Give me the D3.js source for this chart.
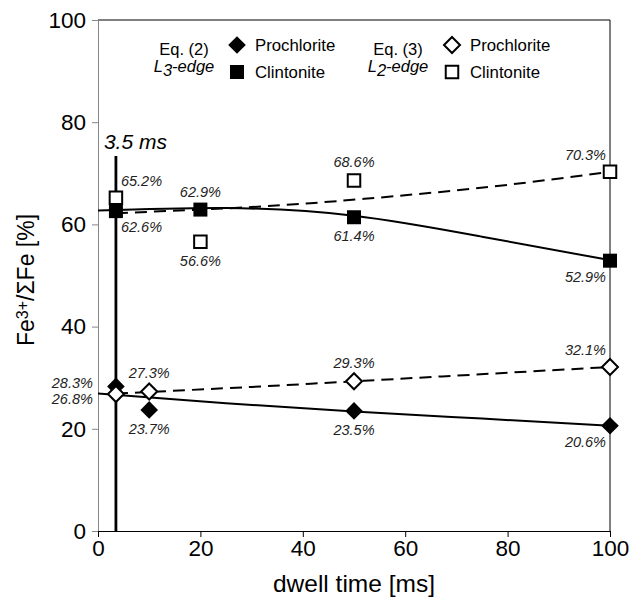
<!DOCTYPE html>
<html>
<head>
<meta charset="utf-8">
<script src="https://cdn.jsdelivr.net/npm/d3@7"></script>
<style>
  body { margin: 0; background: #fff; }
  svg text { font-family: "Liberation Sans", Arial, sans-serif; }
</style>
</head>
<body>
<svg class="chart" width="630" height="600"></svg>
<script>
"use strict";

// measured points
let dwellPro = [3.5, 10, 50, 100];
let dwellClin = [3.5, 20, 50, 100];
let l3Pro = [28.3, 23.7, 23.5, 20.6];   // Eq. (2) Prochlorite
let l3Clin = [62.6, 62.9, 61.4, 52.9];  // Eq. (2) Clintonite
let l2Pro = [26.8, 27.3, 29.3, 32.1];   // Eq. (3) Prochlorite
let l2Clin = [65.2, 56.6, 68.6, 70.3];  // Eq. (3) Clintonite

// trend curves
let trendSolidX = [0, 25, 50, 75, 100];
let trendL3Pro = [26.9, 25.0, 23.4, 22.0, 20.6];
let trendL3Clin = [62.7, 63.2, 61.7, 57.6, 53.0];
let trendDashX = [3.5, 30, 52, 77, 100];
let trendL2Pro = [26.9, 28.2, 29.4, 30.8, 32.1];
let trendL2Clin = [62.2, 63.4, 65.0, 67.4, 70.3];

let xTicks = [0, 20, 40, 60, 80, 100];
let yTicks = [0, 20, 40, 60, 80, 100];
let markerTime = 3.5;
let markerTop = 73.4;

// where each value label sits relative to its marker
let placeL3Pro = ['L-', 'B', 'B', 'BL'];
let placeL2Pro = ['L+', 'A', 'A', 'AL'];
let placeL3Clin = ['BR', 'A', 'B', 'BL'];
let placeL2Clin = ['AR', 'B', 'A', 'AL'];

let svg = d3.select('.chart');

let x = d3.scaleLinear().domain([0, 100]).range([98, 610]);
let y = d3.scaleLinear().domain([0, 100]).range([531, 20]);

// frame: black top / right / bottom, grey value axis
svg.append('line')
  .attr('x1', x(0)).attr('x2', x(100)).attr('y1', y(100)).attr('y2', y(100))
  .attr('stroke', '#000').attr('stroke-width', 1);
svg.append('line')
  .attr('x1', x(100)).attr('x2', x(100)).attr('y1', y(100)).attr('y2', y(0))
  .attr('stroke', '#000').attr('stroke-width', 1);

let yAxis = svg.append('g')
  .attr('transform', 'translate(' + x(0) + ',0)')
  .call(d3.axisLeft(y).tickValues(yTicks).tickSize(6).tickPadding(6));
yAxis.select('.domain').attr('stroke', '#868686');
yAxis.selectAll('.tick line').attr('stroke', '#868686');
yAxis.selectAll('.tick text')
  .attr('font-size', 22.5).attr('fill', '#000')
  .attr('font-family', '"Liberation Sans", Arial, sans-serif');

let xAxis = svg.append('g')
  .attr('transform', 'translate(0,' + y(0) + ')')
  .call(d3.axisBottom(x).tickValues(xTicks).tickSize(6).tickPadding(3));
xAxis.select('.domain').attr('stroke', '#000');
xAxis.selectAll('.tick line').attr('stroke', '#000');
xAxis.selectAll('.tick text')
  .attr('font-size', 22.5).attr('fill', '#000')
  .attr('font-family', '"Liberation Sans", Arial, sans-serif');

// axis titles
svg.append('text')
  .attr('x', 354).attr('y', 592)
  .attr('text-anchor', 'middle')
  .attr('font-size', 24.5)
  .text('dwell time [ms]');

let yTitle = svg.append('text')
  .attr('transform', 'translate(34,280) rotate(-90)')
  .attr('text-anchor', 'middle')
  .attr('font-size', 23);
yTitle.append('tspan').text('Fe');
yTitle.append('tspan').attr('baseline-shift', '40%').attr('font-size', 16).text('3+');
yTitle.append('tspan').text('/ΣFe [%]');

// trend lines
let trendLine = d3.line()
  .x(d => x(d[0]))
  .y(d => y(d[1]))
  .curve(d3.curveNatural);

let trends = [
  { xs: trendSolidX, ys: trendL3Clin, dash: null },
  { xs: trendSolidX, ys: trendL3Pro, dash: null },
  { xs: trendDashX, ys: trendL2Clin, dash: '12,7' },
  { xs: trendDashX, ys: trendL2Pro, dash: '12,7' }
];

svg.selectAll('.trend')
  .data(trends)
  .enter()
  .append('path')
  .attr('class', 'trend')
  .attr('d', d => trendLine(d.xs.map((v, i) => [v, d.ys[i]])))
  .attr('fill', 'none')
  .attr('stroke', '#000')
  .attr('stroke-width', 2)
  .attr('stroke-dasharray', d => d.dash);

// 3.5 ms marker line
svg.append('line')
  .attr('x1', x(markerTime)).attr('x2', x(markerTime))
  .attr('y1', y(markerTop)).attr('y2', y(0))
  .attr('stroke', '#000').attr('stroke-width', 2.8);
svg.append('text')
  .attr('x', x(markerTime) - 12).attr('y', y(markerTop) - 7)
  .attr('font-size', 21).attr('font-style', 'italic')
  .text(markerTime + ' ms');

// marker shapes
let diamond = r => 'M0,' + (-r) + 'L' + r + ',0L0,' + r + 'L' + (-r) + ',0Z';
let square = s => 'M' + (-s / 2) + ',' + (-s / 2) + 'h' + s + 'v' + s + 'h' + (-s) + 'Z';

let shapes = {
  fillDiamond: { d: diamond(8.8), fill: '#000', sw: 0 },
  openDiamond: { d: diamond(8), fill: '#fff', sw: 2 },
  fillSquare: { d: square(14), fill: '#000', sw: 0 },
  openSquare: { d: square(12.5), fill: '#fff', sw: 2 }
};

let series = [
  { xs: dwellClin, ys: l2Clin, shape: 'openSquare', place: placeL2Clin },
  { xs: dwellClin, ys: l3Clin, shape: 'fillSquare', place: placeL3Clin },
  { xs: dwellPro, ys: l3Pro, shape: 'fillDiamond', place: placeL3Pro },
  { xs: dwellPro, ys: l2Pro, shape: 'openDiamond', place: placeL2Pro }
];

let offsets = {
  'A': [0, -18, 'middle'],
  'B': [0, 19, 'middle'],
  'L-': [-23, -3, 'end'],
  'L+': [-23, 5, 'end'],
  'AR': [5, -17, 'start'],
  'BR': [5, 16, 'start'],
  'AL': [-4, -17, 'end'],
  'BL': [-4, 16, 'end']
};

series.forEach(s => {
  let pts = s.xs.map((v, i) => ({ t: v, v: s.ys[i], p: s.place[i] }));
  let sh = shapes[s.shape];

  svg.selectAll(null)
    .data(pts)
    .enter()
    .append('path')
    .attr('transform', d => 'translate(' + x(d.t) + ',' + y(d.v) + ')')
    .attr('d', sh.d)
    .attr('fill', sh.fill)
    .attr('stroke', sh.sw ? '#000' : 'none')
    .attr('stroke-width', sh.sw);

  svg.selectAll(null)
    .data(pts)
    .enter()
    .append('text')
    .attr('x', d => x(d.t) + offsets[d.p][0])
    .attr('y', d => y(d.v) + offsets[d.p][1])
    .attr('text-anchor', d => offsets[d.p][2])
    .attr('dominant-baseline', 'central')
    .attr('font-size', 14.5)
    .attr('font-style', 'italic')
    .attr('fill', '#222')
    .text(d => d.v.toFixed(1) + '%');
});

// legend
let legendGroups = [
  { eq: 'Eq. (2)', edge: '3', cx: 184, mx: 237, pro: 'fillDiamond', clin: 'fillSquare' },
  { eq: 'Eq. (3)', edge: '2', cx: 398, mx: 452, pro: 'openDiamond', clin: 'openSquare' }
];

legendGroups.forEach(g => {
  svg.append('text')
    .attr('x', g.cx).attr('y', 49)
    .attr('text-anchor', 'middle').attr('dominant-baseline', 'central')
    .attr('font-size', 16.5)
    .text(g.eq);
  let edge = svg.append('text')
    .attr('x', g.cx).attr('y', 66)
    .attr('text-anchor', 'middle').attr('dominant-baseline', 'central')
    .attr('font-size', 16.5).attr('font-style', 'italic');
  edge.append('tspan').text('L');
  edge.append('tspan').attr('baseline-shift', '-25%').text(g.edge);
  edge.append('tspan').text('-edge');

  [[g.pro, 45, 'Prochlorite'], [g.clin, 72, 'Clintonite']].forEach(row => {
    let sh = shapes[row[0]];
    svg.append('path')
      .attr('transform', 'translate(' + g.mx + ',' + row[1] + ')')
      .attr('d', sh.d)
      .attr('fill', sh.fill)
      .attr('stroke', sh.sw ? '#000' : 'none')
      .attr('stroke-width', sh.sw);
    svg.append('text')
      .attr('x', g.mx + 18).attr('y', row[1])
      .attr('dominant-baseline', 'central')
      .attr('font-size', 16.8)
      .text(row[2]);
  });
});
</script>
</body>
</html>
